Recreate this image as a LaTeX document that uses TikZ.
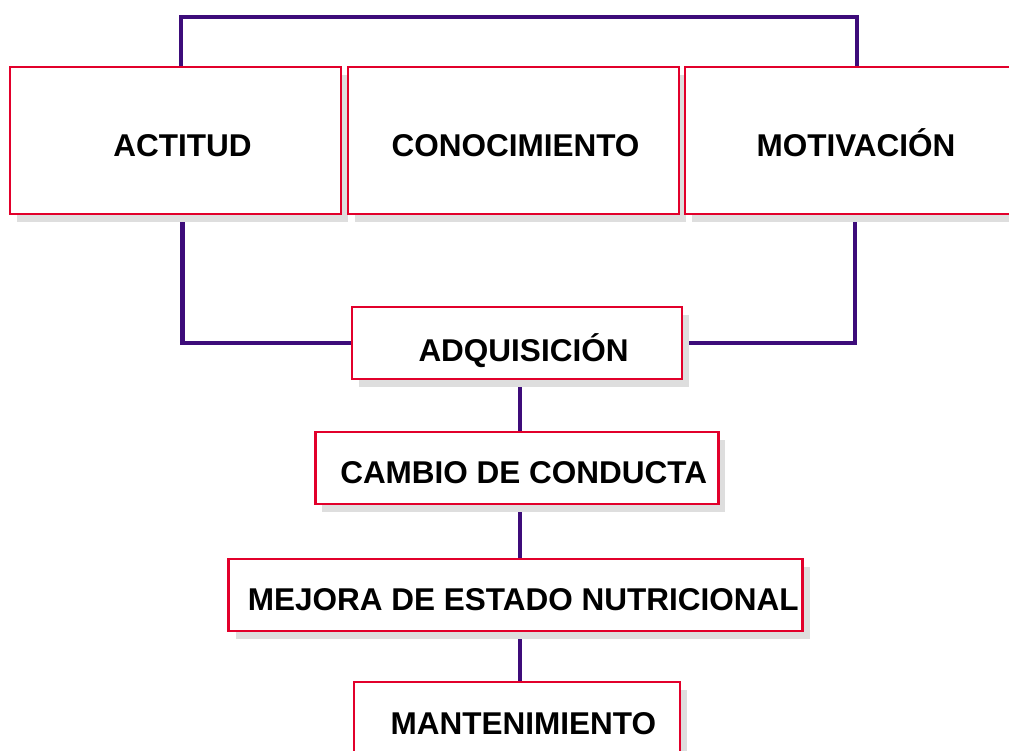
\documentclass[tikz,border=0pt]{standalone}
\usepackage{fontspec}
\setmainfont{Liberation Sans}
\usetikzlibrary{shadows}
\pgfdeclarelayer{bg}
\pgfsetlayers{bg,main}
\definecolor{boxred}{HTML}{E2002B}
\definecolor{linepurple}{HTML}{3D0C7A}
\definecolor{shadowgray}{HTML}{DEDEDE}
\begin{document}
\begin{tikzpicture}[x=1pt,y=-1pt,
  box/.style={draw=boxred, line width=2.6pt, fill=white, rectangle, inner sep=0pt,
    general shadow={fill=shadowgray, shadow xshift=7pt, shadow yshift=-8pt}},
  conn/.style={draw=linepurple, line width=4.5pt},
  txt/.style={font=\fontsize{31.5}{38}\selectfont\bfseries, anchor=base, inner sep=0pt}]
\useasboundingbox (0,0) rectangle (1009,751);

% boxes
\node[box, minimum width=331pt, minimum height=147pt] (a) at (175.5,140.5) {};
\node[box, minimum width=331pt, minimum height=147pt] (k) at (513.5,140.5) {};
\node[box, minimum width=331pt, minimum height=147pt] (m) at (850.5,140.5) {};
\node[box, minimum width=330pt, minimum height=72pt] (q) at (517,343) {};
\node[box, minimum width=403pt, minimum height=72pt] (c) at (516.7,468) {};
\node[box, minimum width=574pt, minimum height=72pt] (e) at (515.5,595) {};
\node[box, minimum width=326pt, minimum height=72pt] (n) at (517,718) {};

% texts
\node[txt] (ta) at ([xshift=7pt,yshift=-16.5pt]a.center) {ACTITUD};
\node[txt] (tk) at ([xshift=2pt,yshift=-16.5pt]k.center) {CONOCIMIENTO};
\node[txt] (tm) at ([xshift=5.5pt,yshift=-16.5pt]m.center) {MOTIVACIÓN};
\node[txt] (tq) at ([xshift=6.5pt,yshift=-18pt]q.center) {ADQUISICIÓN};
\node[txt] (tc) at ([xshift=7pt,yshift=-15.5pt]c.center) {CAMBIO DE CONDUCTA};
\node[txt] (te) at ([xshift=7.8pt,yshift=-15.7pt]e.center) {MEJORA DE ESTADO NUTRICIONAL};
\node[txt] (tn) at ([xshift=6.3pt,yshift=-16pt]n.center) {MANTENIMIENTO};

% helper coordinates
\coordinate (topy) at (0,17);
\coordinate (xa) at (181,0);
\coordinate (xm) at (857,0);
\coordinate (xa2) at (182.5,0);
\coordinate (xm2) at (855,0);
\coordinate (spine) at (520,0);

\begin{pgfonlayer}{bg}
\draw[conn] (xa |- a.north) -- (xa |- topy) -- (xm |- topy) -- (xm |- m.north);
\draw[conn] (xa2 |- a.south) |- (q.west);
\draw[conn] (xm2 |- m.south) |- (q.east);
\draw[conn] (spine |- q.south) -- (spine |- c.north);
\draw[conn] (spine |- c.south) -- (spine |- e.north);
\draw[conn] (spine |- e.south) -- (spine |- n.north);
\end{pgfonlayer}
\end{tikzpicture}
\end{document}
